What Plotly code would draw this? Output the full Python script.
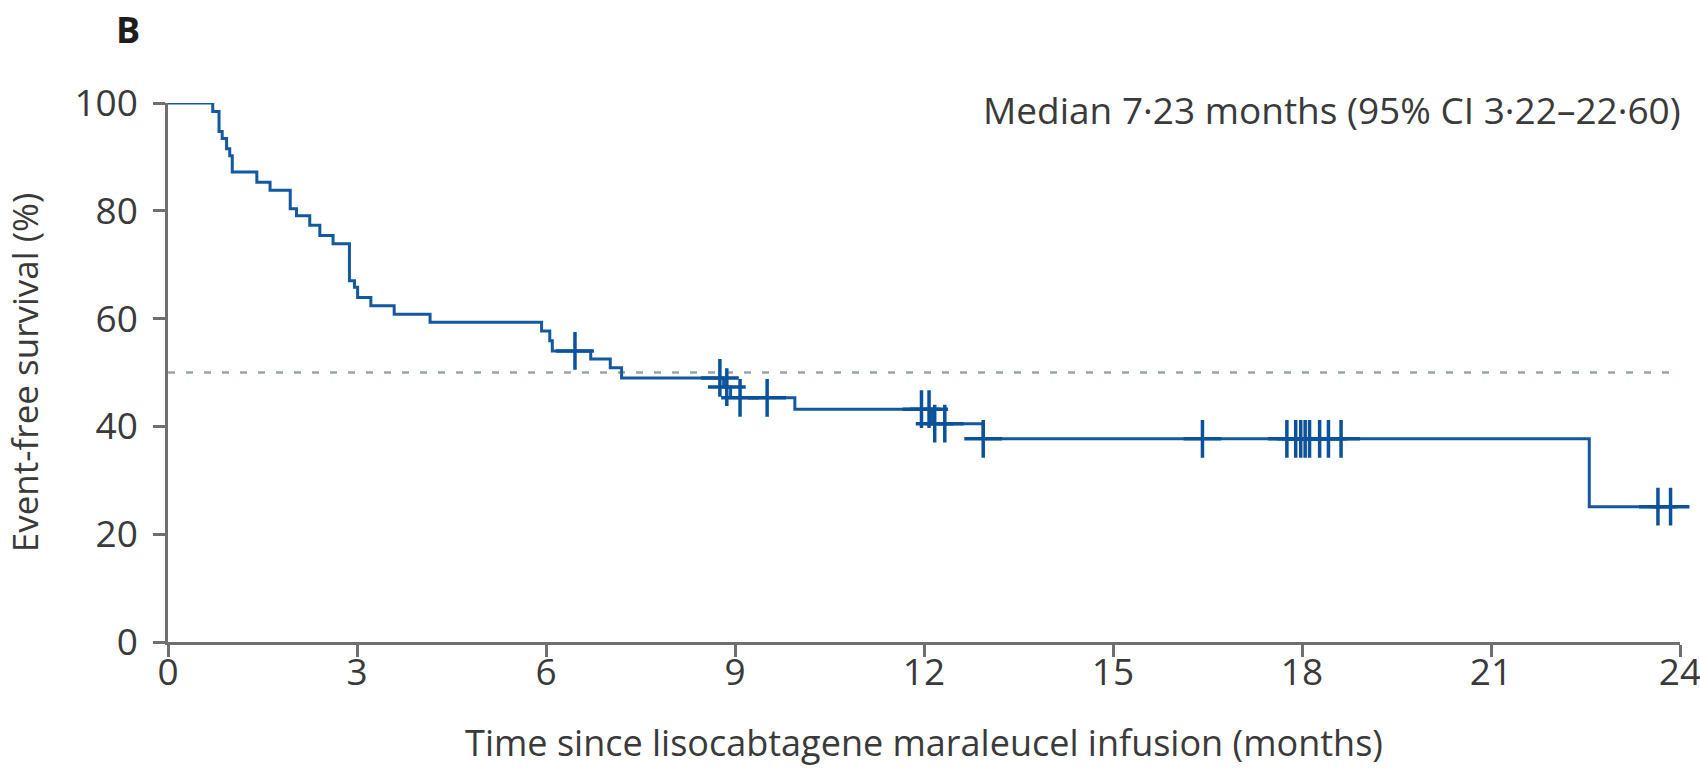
import plotly.graph_objects as go

# Kaplan-Meier step curve (time in months, event-free survival %)
step_times = [0, 0.71, 0.81, 0.86, 0.93, 0.98, 1.02, 1.41, 1.62, 1.94, 2.04, 2.25, 2.41,
              2.62, 2.88, 2.96, 3.01, 3.22, 3.59, 4.16, 5.93, 6.06, 6.10, 6.71, 7.02, 7.20,
              8.82, 8.93, 9.95, 12.12, 12.94, 22.56, 23.87]
step_surv = [100, 98.4, 94.7, 93.4, 91.5, 90.2, 87.2, 85.3, 83.8, 80.4, 79.1, 77.3, 75.4,
             73.9, 67.0, 65.8, 63.9, 62.4, 60.8, 59.3, 57.7, 55.9, 54.0, 52.5, 50.9, 49.0,
             47.3, 45.3, 43.2, 40.5, 37.7, 25.1, 25.1]

# Censoring marks
censor_times = [6.46, 8.76, 8.87, 9.08, 9.51, 11.96, 12.08, 12.17, 12.33, 12.94, 16.42,
                17.76, 17.90, 17.98, 18.05, 18.12, 18.28, 18.42, 18.62, 23.65, 23.85]
censor_surv = [54.0, 49.0, 47.3, 45.3, 45.3, 43.2, 43.2, 40.5, 40.5, 37.7, 37.7,
               37.7, 37.7, 37.7, 37.7, 37.7, 37.7, 37.7, 37.7, 25.1, 25.1]

median_x = [0, 24]
median_y = [50, 50]

x_ticks = [0, 3, 6, 9, 12, 15, 18, 21, 24]
y_ticks = [0, 20, 40, 60, 80, 100]

FONT = "Open Sans"
TXT = "#3a3a3a"
AX = "#6f6f6f"
BLUE = "#14589f"

fig = go.Figure()
fig.add_trace(go.Scatter(x=median_x, y=median_y, mode="lines",
                         line=dict(color="#97a4ab", width=2.5, dash="7px,11px"),
                         hoverinfo="skip", showlegend=False, cliponaxis=False))
fig.add_trace(go.Scatter(x=step_times, y=step_surv, mode="lines", line_shape="hv",
                         line=dict(color=BLUE, width=3), showlegend=False,
                         cliponaxis=False))
fig.add_trace(go.Scatter(x=censor_times, y=censor_surv, mode="markers",
                         marker=dict(symbol="cross-thin", size=27,
                                     line=dict(color="#0b529b", width=3.5)),
                         showlegend=False, cliponaxis=False))

fig.update_layout(
    width=1700, height=781, autosize=False,
    margin=dict(l=168, r=20, t=103, b=139),
    paper_bgcolor="white", plot_bgcolor="white",
    font=dict(family=FONT, color=TXT, size=36),
    xaxis=dict(range=[0, 24], tickvals=x_ticks, ticktext=[str(v) for v in x_ticks],
               showgrid=False, zeroline=False, showline=True, linecolor=AX, linewidth=2.5,
               ticks="outside", ticklen=12, tickwidth=2.5, tickcolor=AX,
               tickfont=dict(size=37, color=TXT), ticklabelstandoff=-16,
               ticklabeloverflow="allow", automargin=False,
               title=dict(text="Time since lisocabtagene maraleucel infusion (months)",
                          font=dict(size=36, color=TXT), standoff=36)),
    yaxis=dict(range=[0, 100], tickvals=y_ticks, ticktext=[str(v) for v in y_ticks],
               showgrid=False, zeroline=False, showline=True, linecolor=AX, linewidth=2.5,
               ticks="outside", ticklen=12, tickwidth=2.5, tickcolor=AX,
               tickfont=dict(size=37, color=TXT), ticklabelstandoff=8,
               ticklabeloverflow="allow", automargin=False,
               title=dict(text="Event-free survival (%)", font=dict(size=35, color=TXT),
                          standoff=26)),
    annotations=[
        dict(text="Median 7·23 months (95% CI 3·22–22·60)", xref="paper", yref="paper",
             x=1.0, y=1.0, xanchor="right", yanchor="middle", showarrow=False,
             xshift=3, yshift=-6, font=dict(size=37, color=TXT)),
        dict(text="<b>B</b>", xref="paper", yref="paper", x=(114 - 168) / 1512,
             y=1 + (103 - 30) / 539, xanchor="left", yanchor="middle", showarrow=False,
             font=dict(size=36, color="#1e1e1e")),
    ],
)

fig.write_html("out.html")
